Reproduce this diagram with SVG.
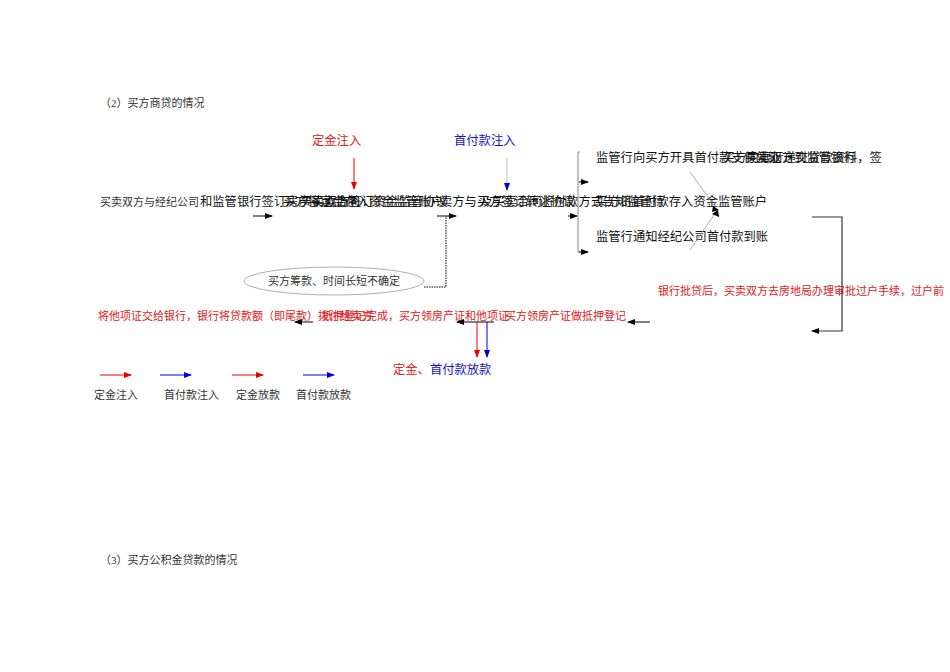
<svg xmlns="http://www.w3.org/2000/svg" width="950" height="672" viewBox="0 0 950 672">
<style>
.s{font-family:"Liberation Serif","Noto Sans CJK SC",serif;font-size:11px;fill:#333}
.a{font-family:"Liberation Sans","Noto Sans CJK SC",sans-serif;font-size:12.3px;fill:#111}
.r{fill:#e02020}.b{fill:#1010d0}
.k{stroke:#000;stroke-width:1;fill:none}
.g{stroke:#999;stroke-width:0.8;fill:none}
</style>
<defs>
<marker id="mk" markerWidth="8" markerHeight="8" refX="7" refY="4" orient="auto" markerUnits="userSpaceOnUse"><path d="M0,1L8,4L0,7z" fill="#000"/></marker>
<marker id="mr" markerWidth="8" markerHeight="8" refX="7" refY="4" orient="auto" markerUnits="userSpaceOnUse"><path d="M0,1L8,4L0,7z" fill="#e00"/></marker>
<marker id="mb" markerWidth="8" markerHeight="8" refX="7" refY="4" orient="auto" markerUnits="userSpaceOnUse"><path d="M0,1L8,4L0,7z" fill="#00d"/></marker>
</defs>
<rect width="950" height="672" fill="#fff"/>
<text class="s" x="100" y="107">（2）买方商贷的情况</text>
<text class="s" x="100" y="564">（3）买方公积金贷款的情况</text>
<g id="n-top">
<text class="a r" x="312" y="145">定金注入</text>
<text class="a b" x="454" y="145">首付款注入</text>
</g>
<g id="n-main">
<text class="s" x="100" y="206">买卖双方与经纪公司</text>
<text class="a" x="200" y="206">和监管银行签订房产买卖合同</text>
<text class="a" x="283" y="206">买方将定金存入资金监管账户</text>
<text class="a" x="300" y="206">买卖双方签订资金监管协议</text>
<text class="a" x="440" y="206">卖方与买方签订转让协议</text>
<text class="a" x="480" y="206">及买卖合同将付款方式告知监管行</text>
<text class="a" x="595" y="206">买方将首付款存入资金监管账户</text>
</g>
<g id="n-right">
<text class="a" x="596" y="162">监管行向买方开具首付款支付凭证</text>
<text class="a" x="722" y="162">买方向银行递交贷款资料，签</text>
<text class="a" x="745" y="162">买卖双方到监管银行</text>
<text class="a" x="596" y="241">监管行通知经纪公司首付款到账</text>
</g>
<g id="n-ellipse">
<ellipse cx="334" cy="281" rx="90" ry="14" fill="#fff" stroke="#999" stroke-width="0.8"/>
<text class="s" x="268" y="285">买方筹款、时间长短不确定</text>
</g>
<g id="n-red">
<text class="s r" x="658" y="295">银行批贷后，买卖双方去房地局办理审批过户手续，过户前</text>
<text class="s r" x="98" y="320">将他项证交给银行，银行将贷款额（即尾款）拨付给卖方</text>
<text class="s r" x="322" y="320">抵押登记完成，买方领房产证和他项证</text>
<text class="s r" x="505" y="320">买方领房产证做抵押登记</text>
<text class="a" x="393" y="374"><tspan class="r">定金、</tspan><tspan class="b">首付款放款</tspan></text>
</g>
<g id="legend">
<text class="s" x="94" y="399">定金注入</text>
<text class="s" x="164" y="399">首付款注入</text>
<text class="s" x="236" y="399">定金放款</text>
<text class="s" x="296" y="399">首付款放款</text>
</g>
<g id="connectors">
<line x1="354" y1="158" x2="354" y2="189" stroke="#e00" marker-end="url(#mr)"/>
<line x1="507" y1="158" x2="507" y2="189" stroke="#aad" stroke-width="0.8"/>
<line x1="507" y1="185" x2="507" y2="190" stroke="#00d" marker-end="url(#mb)"/>
<line class="k" x1="253" y1="216" x2="272" y2="216" marker-end="url(#mk)"/>
<line class="k" x1="437" y1="216" x2="456" y2="216" marker-end="url(#mk)"/>
<polyline points="424,287 446,287 446,216" fill="none" stroke="#000" stroke-dasharray="1.5,1"/>
<line class="k" x1="568" y1="216" x2="577" y2="216" marker-end="url(#mk)"/>
<polyline points="580,152 578,152 578,252 580,252" fill="none" stroke="#888"/>
<line class="k" x1="579" y1="182" x2="588" y2="182" marker-end="url(#mk)"/>
<line class="k" x1="579" y1="252" x2="588" y2="252" marker-end="url(#mk)"/>
<line class="g" x1="690" y1="172" x2="716" y2="208"/>
<line class="g" x1="690" y1="250" x2="716" y2="212"/>
<path d="M713,206l6,4l-7,2z" fill="#000"/>
<path d="M712,214l6,-4l1,7z" fill="#000"/>
<polyline points="812,217 842,217 842,331 812,331" fill="none" stroke="#333" stroke-width="1.2" marker-end="url(#mk)"/>
<line class="k" x1="650" y1="322" x2="628" y2="322" marker-end="url(#mk)"/>
<line class="k" x1="494" y1="322" x2="457" y2="322" marker-end="url(#mk)"/>
<line class="k" x1="313" y1="322" x2="295" y2="322" marker-end="url(#mk)"/>
<line x1="477" y1="322" x2="477" y2="357" stroke="#e00" marker-end="url(#mr)"/>
<line x1="487" y1="322" x2="487" y2="357" stroke="#00d" marker-end="url(#mb)"/>
<line x1="100" y1="375" x2="131" y2="375" stroke="#e00" marker-end="url(#mr)"/>
<line x1="160" y1="375" x2="191" y2="375" stroke="#00d" marker-end="url(#mb)"/>
<line x1="232" y1="375" x2="263" y2="375" stroke="#e00" marker-end="url(#mr)"/>
<line x1="303" y1="375" x2="334" y2="375" stroke="#00d" marker-end="url(#mb)"/>
</g>
</svg>
